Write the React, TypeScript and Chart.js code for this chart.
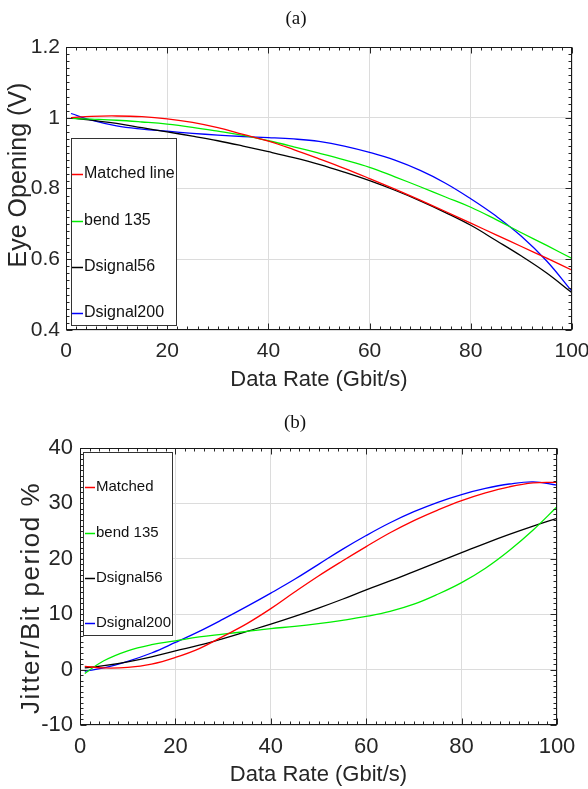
import React, { useEffect, useRef } from 'react';
import { Chart, registerables } from 'chart.js';

Chart.register(...registerables);

// ---------------- data ----------------
const xRate = [1, 5, 10, 15, 20, 25, 30, 35, 40, 45, 50, 55, 60, 65, 70, 75, 80, 85, 90, 95, 100];

// (a) Eye opening (V)
const eyeMatched = [1.0, 1.004, 1.005, 1.003, 0.997, 0.987, 0.972, 0.953, 0.934, 0.91, 0.884, 0.857, 0.828, 0.798, 0.767, 0.735, 0.702, 0.669, 0.636, 0.603, 0.569];
const eyeBend = [0.998, 0.996, 0.993, 0.988, 0.982, 0.973, 0.962, 0.95, 0.935, 0.918, 0.9, 0.881, 0.86, 0.833, 0.805, 0.776, 0.747, 0.712, 0.675, 0.639, 0.602];
const eyeD56 = [1.0, 0.993, 0.984, 0.972, 0.96, 0.948, 0.935, 0.92, 0.904, 0.887, 0.868, 0.846, 0.822, 0.795, 0.765, 0.732, 0.696, 0.653, 0.609, 0.561, 0.505];
const eyeD200 = [1.012, 0.993, 0.977, 0.968, 0.962, 0.956, 0.951, 0.947, 0.944, 0.94, 0.933, 0.92, 0.902, 0.88, 0.851, 0.815, 0.771, 0.722, 0.665, 0.595, 0.509];

// (b) Jitter / bit period %
const jitMatched = [0.6, 0.3, 0.4, 1.0, 2.2, 3.8, 6.0, 8.3, 11.0, 14.0, 16.9, 19.6, 22.2, 24.7, 26.9, 28.8, 30.5, 31.9, 33.0, 33.7, 33.8];
const jitBend = [-0.7, 1.6, 3.4, 4.5, 5.2, 5.9, 6.4, 6.9, 7.4, 7.8, 8.3, 8.9, 9.6, 10.5, 11.8, 13.6, 15.7, 18.3, 21.5, 25.2, 29.4];
const jitD56 = [0.3, 0.7, 1.4, 2.3, 3.4, 4.4, 5.6, 6.9, 8.2, 9.6, 11.1, 12.7, 14.4, 16.0, 17.7, 19.4, 21.1, 22.8, 24.4, 25.9, 27.3];
const jitD200 = [-0.3, 0.3, 1.5, 3.0, 4.9, 6.9, 9.1, 11.4, 13.8, 16.3, 19.0, 21.7, 24.2, 26.5, 28.5, 30.2, 31.6, 32.7, 33.5, 33.9, 33.3];

const labelsA = ['Matched line', 'bend 135', 'Dsignal56', 'Dsignal200'];
const labelsB = ['Matched', 'bend 135', 'Dsignal56', 'Dsignal200'];
const seriesColors = ['#ff0000', '#00ee00', '#000000', '#0000ff'];

const xTicks = [0, 20, 40, 60, 80, 100];
const yTicksA = [0.4, 0.6, 0.8, 1, 1.2];
const yTicksB = [-10, 0, 10, 20, 30, 40];

const SANS = '"Liberation Sans", Arial, Helvetica, sans-serif';
const SERIF = '"Liberation Serif", "Times New Roman", serif';

// ---------------- decoration plugin ----------------
const decoPlugin = {
  id: 'deco',
  afterDraw(chart: any, _args: any, o: any) {
    const ctx = chart.ctx;
    const { left, right, top, bottom } = chart.chartArea;
    const xs = chart.scales.x;
    const ys = chart.scales.y;
    ctx.save();
    const L = Math.round(left) + 0.5;
    const R = Math.round(right) - 0.5;
    const T = Math.round(top) + 0.5;
    const B = Math.round(bottom) - 0.5;

    // inward ticks on all four sides
    ctx.strokeStyle = '#262626';
    ctx.lineWidth = 1;
    ctx.beginPath();
    const nx = Math.round((xs.max - xs.min) / o.xMinor);
    for (let i = 0; i <= nx; i++) {
      const v = xs.min + i * o.xMinor;
      const r = v / o.xMajor;
      const len = Math.abs(r - Math.round(r)) < 1e-6 ? 6 : 3;
      const p = Math.round(xs.getPixelForValue(v)) + 0.5;
      ctx.moveTo(p, B);
      ctx.lineTo(p, B - len);
      ctx.moveTo(p, T);
      ctx.lineTo(p, T + len);
    }
    const ny = Math.round((ys.max - ys.min) / o.yMinor);
    for (let i = 0; i <= ny; i++) {
      const v = ys.min + i * o.yMinor;
      const r = (v - ys.min) / o.yMajor;
      const len = Math.abs(r - Math.round(r)) < 1e-6 ? 6 : 3;
      const p = Math.round(ys.getPixelForValue(v)) + 0.5;
      ctx.moveTo(L, p);
      ctx.lineTo(L + len, p);
      ctx.moveTo(R, p);
      ctx.lineTo(R - len, p);
    }
    ctx.stroke();

    // frame
    ctx.strokeStyle = '#1a1a1a';
    ctx.strokeRect(L, T, R - L, B - T);

    // legend box
    const lg = o.legend;
    ctx.fillStyle = '#ffffff';
    ctx.fillRect(lg.left, lg.top, lg.right - lg.left, lg.bottom - lg.top);
    ctx.strokeStyle = '#333333';
    ctx.lineWidth = 1;
    ctx.strokeRect(lg.left + 0.5, lg.top + 0.5, lg.right - lg.left, lg.bottom - lg.top);
    ctx.font = `${lg.size}px ${SANS}`;
    ctx.textBaseline = 'middle';
    ctx.textAlign = 'left';
    chart.data.datasets.forEach((ds: any, i: number) => {
      const y = lg.rows[i];
      ctx.strokeStyle = ds.borderColor;
      ctx.lineWidth = 1.5;
      ctx.beginPath();
      ctx.moveTo(lg.markX0, y + 0.5);
      ctx.lineTo(lg.markX1, y + 0.5);
      ctx.stroke();
      ctx.fillStyle = '#111111';
      ctx.fillText(ds.label, lg.textX, y);
    });

    // panel title
    ctx.fillStyle = '#111111';
    ctx.font = `${o.titleSize}px ${SERIF}`;
    ctx.textAlign = 'center';
    ctx.textBaseline = 'middle';
    ctx.fillText(o.title, o.titleX, o.titleY);

    // y axis title
    ctx.save();
    ctx.translate(o.yTitleX, o.yTitleY);
    ctx.rotate(-Math.PI / 2);
    ctx.font = `${o.yTitleSize}px ${SANS}`;
    (ctx as any).letterSpacing = `${o.yTitleSpacing}px`;
    ctx.fillStyle = '#262626';
    ctx.textAlign = 'center';
    ctx.textBaseline = 'middle';
    ctx.fillText(o.yTitle, 0, 0);
    ctx.restore();

    ctx.restore();
  },
};

function buildConfig(p: any) {
  const datasets = p.series.map((s: number[], i: number) => ({
    label: p.labels[i],
    data: xRate.map((x, j) => ({ x, y: s[j] })),
    borderColor: seriesColors[i],
    backgroundColor: seriesColors[i],
    borderWidth: 1.3,
    pointRadius: 0,
    fill: false,
    tension: 0.4,
  }));
  return {
    type: 'line',
    data: { datasets },
    plugins: [decoPlugin],
    options: {
      animation: false,
      responsive: false,
      devicePixelRatio: 1,
      events: [],
      layout: { padding: p.padding },
      plugins: {
        legend: { display: false },
        title: { display: false },
        tooltip: { enabled: false },
        deco: p.deco,
      },
      scales: {
        x: {
          type: 'linear',
          min: 0,
          max: 100,
          afterBuildTicks: (s: any) => {
            s.ticks = xTicks.map((v) => ({ value: v }));
          },
          afterFit: (s: any) => {
            s.height = p.xAxisHeight;
            s.paddingLeft = 0;
            s.paddingRight = 0;
          },
          ticks: {
            font: { family: SANS, size: p.tickSize, lineHeight: 1 },
            color: '#262626',
            padding: p.xTickPad,
            maxRotation: 0,
          },
          grid: { color: '#dcdcdc', lineWidth: 1, drawTicks: false },
          border: { display: false },
          title: {
            display: true,
            text: 'Data Rate (Gbit/s)',
            font: { family: SANS, size: 22, lineHeight: 1 },
            color: '#262626',
            padding: { top: 0, bottom: p.xTitlePad },
          },
        },
        y: {
          type: 'linear',
          min: p.yMin,
          max: p.yMax,
          afterBuildTicks: (s: any) => {
            s.ticks = p.yTicks.map((v: number) => ({ value: v }));
          },
          afterFit: (s: any) => {
            s.width = p.yAxisWidth;
            s.paddingTop = 0;
            s.paddingBottom = 0;
          },
          ticks: {
            font: { family: SANS, size: p.tickSize, lineHeight: 1 },
            color: '#262626',
            padding: p.yTickPad,
            callback: (v: number) => String(+Number(v).toFixed(2)),
          },
          grid: { color: '#dcdcdc', lineWidth: 1, drawTicks: false },
          border: { display: false },
        },
      },
    },
  };
}

export default function App() {
  const refA = useRef<HTMLCanvasElement>(null);
  const refB = useRef<HTMLCanvasElement>(null);

  useEffect(() => {
    const cfgA = buildConfig({
      series: [eyeMatched, eyeBend, eyeD56, eyeD200],
      labels: labelsA,
      padding: { top: 47, right: 16, bottom: 0, left: 0 },
      xAxisHeight: 65,
      yAxisWidth: 66,
      yMin: 0.4,
      yMax: 1.2,
      yTicks: yTicksA,
      tickSize: 21,
      xTickPad: 11,
      yTickPad: 6,
      xTitlePad: 4,
      deco: {
        xMinor: 2,
        xMajor: 20,
        yMinor: 0.02,
        yMajor: 0.2,
        title: '(a)',
        titleX: 296,
        titleY: 19,
        titleSize: 19,
        yTitle: 'Eye Opening (V)',
        yTitleX: 19,
        yTitleY: 175,
        yTitleSize: 25,
        yTitleSpacing: 0,
        legend: {
          left: 71,
          top: 138,
          right: 176,
          bottom: 325,
          rows: [174, 221, 267, 313],
          markX0: 72,
          markX1: 83,
          textX: 84,
          size: 16,
        },
      },
    });
    const cfgB = buildConfig({
      series: [jitMatched, jitBend, jitD56, jitD200],
      labels: labelsB,
      padding: { top: 53, right: 31, bottom: 0, left: 0 },
      xAxisHeight: 64,
      yAxisWidth: 80,
      yMin: -10,
      yMax: 40,
      yTicks: yTicksB,
      tickSize: 22,
      xTickPad: 11,
      yTickPad: 7,
      xTitlePad: 3,
      deco: {
        xMinor: 2,
        xMajor: 20,
        yMinor: 1,
        yMajor: 10,
        title: '(b)',
        titleX: 295,
        titleY: 28,
        titleSize: 19,
        yTitle: 'Jitter/Bit period %',
        yTitleX: 32,
        yTitleY: 203,
        yTitleSize: 26,
        yTitleSpacing: 1.5,
        legend: {
          left: 83,
          top: 57,
          right: 172,
          bottom: 240,
          rows: [92, 138, 183, 228],
          markX0: 85,
          markX1: 95,
          textX: 96,
          size: 15,
        },
      },
    });
    const a = new Chart(refA.current as HTMLCanvasElement, cfgA as any);
    const b = new Chart(refB.current as HTMLCanvasElement, cfgB as any);
    return () => {
      a.destroy();
      b.destroy();
    };
  }, []);

  return (
    <div style={{ position: 'absolute', left: 0, top: 0, width: 588, height: 789, background: '#ffffff' }}>
      <canvas ref={refA} width={588} height={395} style={{ display: 'block', width: 588, height: 395 }} />
      <canvas ref={refB} width={588} height={394} style={{ display: 'block', width: 588, height: 394 }} />
    </div>
  );
}
